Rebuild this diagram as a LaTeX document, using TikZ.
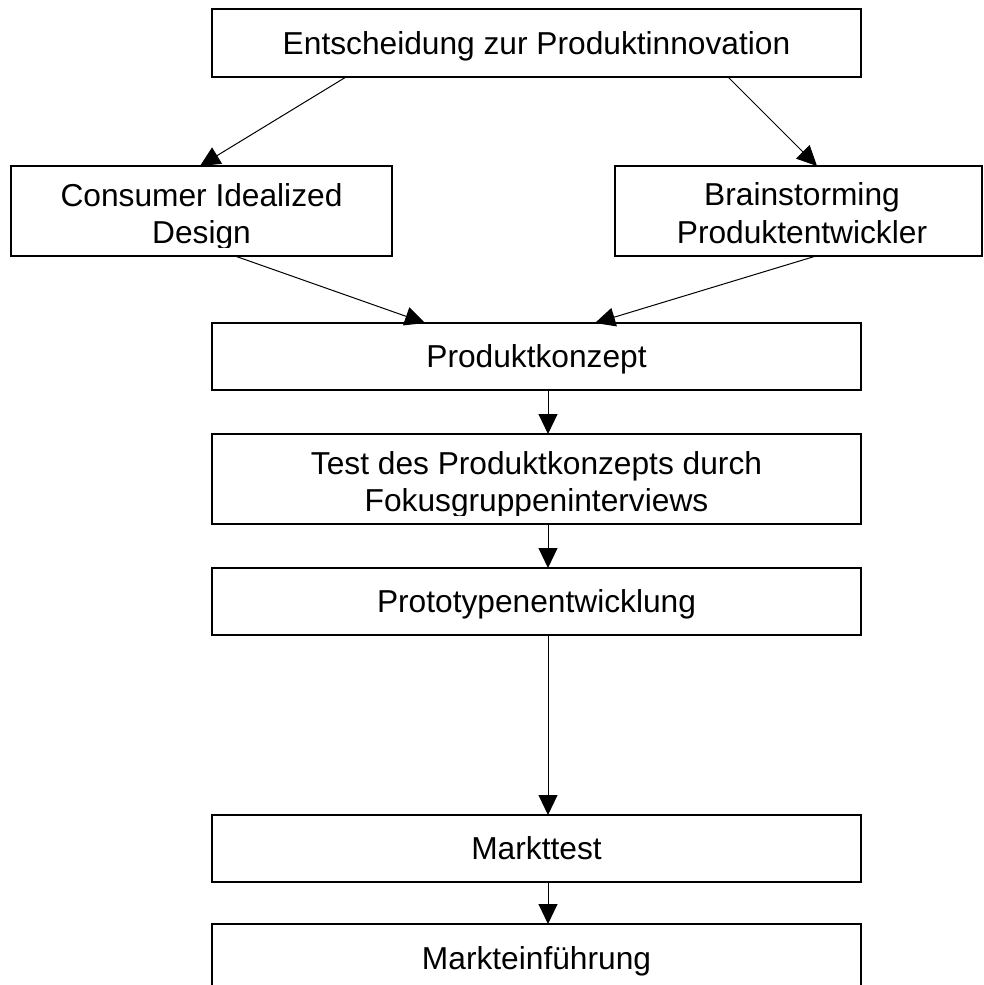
\documentclass[tikz,border=0pt]{standalone}
\usepackage{fontspec}
\setmainfont{Liberation Sans}
\usetikzlibrary{arrows.meta}
\tikzset{
  boxnode/.style={draw=black, line width=1.3pt, fill=white, inner sep=0pt, outer sep=0pt, rectangle},
  lbl/.style={anchor=base, inner sep=0pt, font=\fontsize{31.7}{36.5}\selectfont},
  arr/.style={line width=1pt, -{Triangle[length=20pt,width=19pt]}},
}
\begin{document}
\begin{tikzpicture}[x=1pt,y=-1pt]
\fill[white] (0,0) rectangle (983,985);
\useasboundingbox (0,0) rectangle (983,985);

% boxes
\node[boxnode, minimum width=649pt, minimum height=68pt] (top) at (536.5,43) {};
\node[boxnode, minimum width=381pt, minimum height=90pt] (consumer) at (201.5,211) {};
\node[boxnode, minimum width=367pt, minimum height=90pt] (brain) at (798.5,211) {};
\node[boxnode, minimum width=649pt, minimum height=67pt] (konzept) at (536.5,356.5) {};
\node[boxnode, minimum width=649pt, minimum height=90pt] (test) at (536.5,479) {};
\node[boxnode, minimum width=649pt, minimum height=67pt] (proto) at (536.5,601.5) {};
\node[boxnode, minimum width=649pt, minimum height=67pt] (markt) at (536.5,848.5) {};
\node[boxnode, minimum width=649pt, minimum height=70pt] (einf) at (536.5,959) {};

% labels
\node[lbl] (ttop) at ([yshift=-11.4pt]top.center) {Entscheidung zur Produktinnovation};
\node[lbl] (tcons1) at ([yshift=-40pt]consumer.north) {Consumer Idealized};
\begin{scope}
  \clip (consumer.north west) rectangle ([yshift=9pt]consumer.south east);
  \node[lbl] (tcons2) at ([yshift=-77pt]consumer.north) {Design};
\end{scope}
\node[lbl] (tbrain1) at ([xshift=3.5pt,yshift=-39pt]brain.north) {Brainstorming};
\node[lbl] (tbrain2) at ([xshift=3.5pt,yshift=-77pt]brain.north) {Produktentwickler};
\node[lbl] (tkonzept) at ([yshift=-11.4pt]konzept.center) {Produktkonzept};
\node[lbl] (ttest1) at ([yshift=-40pt]test.north) {Test des Produktkonzepts durch};
\begin{scope}
  \clip (test.north west) rectangle ([yshift=9pt]test.south east);
  \node[lbl] (ttest2) at ([yshift=-77pt]test.north) {Fokusgruppeninterviews};
\end{scope}
\node[lbl] (tproto) at ([yshift=-11.4pt]proto.center) {Prototypenentwicklung};
\node[lbl] (tmarkt) at ([yshift=-11.4pt]markt.center) {Markttest};
\node[lbl] (teinf) at ([yshift=-45pt]einf.north) {Markteinführung};

% connectors
\draw[arr] ([xshift=-190.5pt]top.south) -- ([xshift=-1.5pt]consumer.north);
\draw[arr] ([xshift=191.5pt]top.south) -- ([xshift=18.5pt]brain.north);
\draw[arr] ([xshift=33.5pt]consumer.south) -- ([xshift=-111.5pt]konzept.north);
\draw[arr] ([xshift=17.5pt]brain.south) -- ([xshift=58.5pt]konzept.north);
\draw[arr] ([xshift=11.5pt]konzept.south) -- ([xshift=11.5pt]test.north);
\draw[arr] ([xshift=11.5pt]test.south) -- ([xshift=11.5pt]proto.north);
\draw[arr] ([xshift=11.5pt]proto.south) -- ([xshift=11.5pt]markt.north);
\draw[arr] ([xshift=11.5pt]markt.south) -- ([xshift=11.5pt]einf.north);
\end{tikzpicture}
\end{document}
